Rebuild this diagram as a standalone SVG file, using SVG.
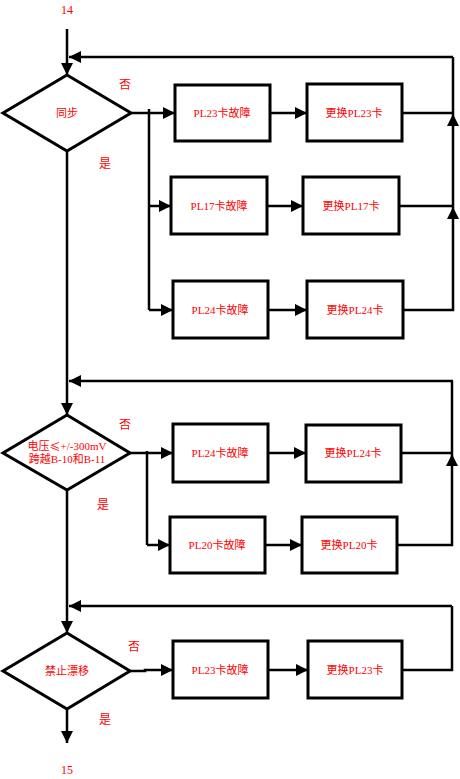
<svg xmlns="http://www.w3.org/2000/svg" width="460" height="779" viewBox="0 0 460 779">
<defs>
<marker id="ah" markerUnits="userSpaceOnUse" markerWidth="12" markerHeight="12" refX="12" refY="6" orient="auto">
<path d="M0,0 L12,6 L0,12 z" fill="#000"/>
</marker>
<style>
.b{fill:#fff;stroke:#000;stroke-width:3}
.c{fill:none;stroke:#000;stroke-width:2.5}
.a{marker-end:url(#ah)}
text{font-family:"Liberation Serif","Noto Sans CJK SC",serif;fill:#f00;font-size:11px;text-anchor:middle;dominant-baseline:central}
.l{font-size:12px}
.cjk{font-family:"Noto Sans CJK SC",sans-serif}
</style>
</defs>
<rect width="460" height="779" fill="#fff"/>
<g id="connectors">
<path class="c a" d="M67,29 V75"/>
<path class="c a" d="M453,57 H69"/>
<path class="c a" d="M131,113 H175"/>
<path class="c" d="M149,109 V310"/>
<path class="c a" d="M149,206 H171"/>
<path class="c a" d="M149,310 H173"/>
<path class="c a" d="M270,113 H307"/>
<path class="c a" d="M267,206 H303"/>
<path class="c a" d="M268,310 H307"/>
<path class="c" d="M402,113 H453"/>
<path class="c" d="M399,206 H453"/>
<path class="c a" d="M403,310 H453 V207"/>
<path class="c a" d="M453,207 V114"/>
<path class="c" d="M453,114 V57"/>
<path class="c a" d="M67,151 V415"/>
<path class="c a" d="M453,381 H69"/>
<path class="c a" d="M130,453 H173"/>
<path class="c" d="M147,451 V545"/>
<path class="c a" d="M147,545 H170"/>
<path class="c a" d="M268,453 H306"/>
<path class="c a" d="M265,545 H302"/>
<path class="c" d="M401,453 H452"/>
<path class="c a" d="M397,545 H452 V454"/>
<path class="c" d="M452,454 V381"/>
<path class="c a" d="M67,490 V633"/>
<path class="c a" d="M452,606 H69"/>
<path class="c a" d="M130,671 H145 V670 H173"/>
<path class="c a" d="M268,670 H308"/>
<path class="c" d="M402,670 H452 V606"/>
<path class="c a" d="M67,709 V743"/>
</g>
<g id="start"><text class="l" x="67" y="10">14</text></g>
<g id="d1"><polygon class="b" points="67,75 131,113 67,151 3,113"/><text x="67" y="113">同步</text></g>
<g id="d1-no"><text class="l" x="125" y="85">否</text></g>
<g id="d1-yes"><text class="l" x="105" y="164">是</text></g>
<g id="n1"><rect class="b" x="175" y="85" width="95" height="56"/><text x="222" y="113">PL23卡故障</text></g>
<g id="n2"><rect class="b" x="307" y="84" width="95" height="57"/><text x="354" y="113">更换PL23卡</text></g>
<g id="n3"><rect class="b" x="171" y="177" width="96" height="57"/><text x="219" y="206">PL17卡故障</text></g>
<g id="n4"><rect class="b" x="303" y="177" width="96" height="57"/><text x="351" y="206">更换PL17卡</text></g>
<g id="n5"><rect class="b" x="173" y="281" width="95" height="57"/><text x="220" y="310">PL24卡故障</text></g>
<g id="n6"><rect class="b" x="307" y="281" width="96" height="57"/><text x="355" y="310">更换PL24卡</text></g>
<g id="d2"><polygon class="b" points="67,415 130,453 67,490 3,453"/><text x="67" y="446">电压<tspan class="cjk">≤</tspan>+/-300mV</text><text x="67" y="459">跨越B-10和B-11</text></g>
<g id="d2-no"><text class="l" x="125" y="425">否</text></g>
<g id="d2-yes"><text class="l" x="103" y="505">是</text></g>
<g id="n7"><rect class="b" x="173" y="424" width="95" height="58"/><text x="220" y="453">PL24卡故障</text></g>
<g id="n8"><rect class="b" x="306" y="425" width="95" height="57"/><text x="353" y="453">更换PL24卡</text></g>
<g id="n9"><rect class="b" x="170" y="517" width="95" height="56"/><text x="217" y="545">PL20卡故障</text></g>
<g id="n10"><rect class="b" x="302" y="517" width="95" height="56"/><text x="349" y="545">更换PL20卡</text></g>
<g id="d3"><polygon class="b" points="67,633 130,671 67,709 3,671"/><text x="67" y="671">禁止漂移</text></g>
<g id="d3-no"><text class="l" x="134" y="647">否</text></g>
<g id="d3-yes"><text class="l" x="105" y="720">是</text></g>
<g id="n11"><rect class="b" x="173" y="641" width="95" height="57"/><text x="220" y="670">PL23卡故障</text></g>
<g id="n12"><rect class="b" x="308" y="641" width="94" height="57"/><text x="355" y="670">更换PL23卡</text></g>
<g id="end"><text class="l" x="67" y="770">15</text></g>
</svg>
